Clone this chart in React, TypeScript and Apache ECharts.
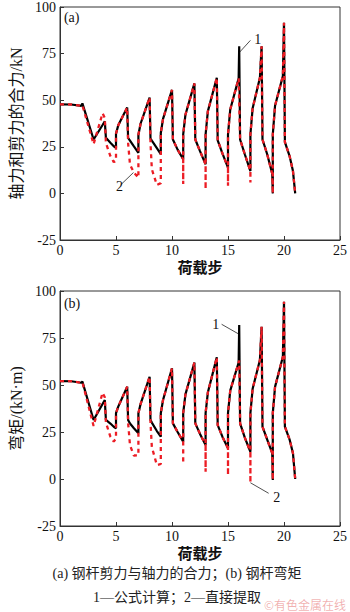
import React, { useEffect, useRef } from "react";
import * as echarts from "echarts";

// ---------- Data (load step, resultant force / bending moment) ----------
// Chart (a): resultant of shear and axial force of the steel bar, kN
const stepsA = [
  0, 1, 1.9, 2, 3, 3.8, 4, 4.1, 4.5, 4.8, 5, 5, 5.2, 6, 6.08, 6.25, 6.6, 7, 7, 7.2,
  8, 8.08, 8.2, 8.65, 9, 9, 9.2, 10, 10.08, 10.5, 11, 11, 11, 11.2, 12, 12.08, 12.5,
  13, 13, 13, 13.2, 14, 14.08, 14.5, 15, 15, 15, 15.2, 15.95, 16, 16.08, 16.5, 17,
  17, 17, 17.2, 17.85, 18, 18.08, 18.5, 18.95, 19, 19, 19.2, 19.9, 20, 20.08, 20.5,
  20.8, 21,
];
const formulaA = [
  47.8, 47.7, 47.0, 48.3, 28.9, 36.7, 38.7, 29.8, 27.2, 25.3, 24.5, 32.0, 36.5, 46.1,
  29.8, 28.3, 25.2, 21.8, 31.5, 37.5, 51.4, 29.4, 28.3, 24.3, 21.0, 32.4, 40.0, 55.5,
  28.9, 23.5, 18.3, 18.3, 31.6, 42.2, 59.0, 28.9, 22.7, 15.6, 15.6, 31.6, 44.0, 62.0,
  28.5, 21.5, 13.8, 13.8, 31.6, 45.0, 61.7, 78.9, 28.9, 21.0, 12.0, 12.0, 31.6, 45.7,
  62.0, 78.9, 28.9, 21.0, 10.5, 0, 31.6, 47.0, 63.0, 91.5, 27.5, 20.0, 12.0, 0,
];
const directA = [
  47.8, 47.7, 47.0, 47.3, 26.4, 43.0, 40.5, 27.0, 20.0, 16.8, 17.4, 32.0, 36.5, 46.1,
  27.0, 15.5, 11.2, 8.5, 31.5, 37.5, 51.4, 27.0, 13.0, 4.5, 5.5, 32.4, 40.0, 55.5,
  28.9, 23.5, 18.3, 5.0, 31.6, 42.2, 59.0, 28.9, 22.7, 15.6, 2.3, 31.6, 44.0, 62.0,
  28.5, 21.5, 13.8, 4.1, 31.6, 45.0, 61.7, 61.9, 28.9, 21.0, 12.0, 5.9, 31.6, 45.7,
  62.0, 78.9, 28.9, 21.0, 10.5, 0, 31.6, 47.0, 63.0, 91.5, 27.5, 20.0, 12.0, 0,
];

// Chart (b): bending moment of the steel bar, kN·m
const stepsB = [
  0, 1, 1.9, 2, 3, 3.8, 4, 4.1, 4.5, 4.8, 5, 5, 5.2, 6, 6.08, 6.25, 6.6, 7, 7, 7.2,
  8, 8.08, 8.2, 8.65, 9, 9, 9.2, 10, 10.08, 10.5, 11, 11, 11, 11.2, 12, 12.08, 12.5,
  13, 13, 13, 13.2, 14, 14.08, 14.5, 15, 15, 15, 15.2, 15.95, 16, 16.08, 16.5, 17,
  17, 17, 17.2, 17.85, 18, 18.08, 18.5, 18.95, 19, 19, 19.2, 19.9, 20, 20.08, 20.5,
  20.8, 21,
];
const formulaB = [
  52.1, 52.0, 51.2, 51.8, 31.4, 39.9, 42.0, 31.4, 29.5, 27.8, 27.0, 35.0, 38.5, 49.1,
  31.4, 29.5, 27.0, 24.3, 35.0, 40.0, 54.4, 31.4, 30.0, 25.5, 22.5, 35.0, 42.0, 58.9,
  29.6, 25.0, 19.9, 19.9, 35.0, 45.0, 61.9, 29.6, 24.0, 18.1, 18.1, 35.0, 46.0, 64.7,
  28.7, 22.5, 16.3, 16.3, 35.0, 47.0, 62.0, 81.9, 29.6, 22.0, 14.5, 14.5, 35.0, 48.0,
  63.3, 81.0, 27.8, 21.0, 13.7, -0.5, 35.0, 49.0, 65.0, 94.3, 27.8, 21.0, 13.7, 0,
];
const directB = [
  52.1, 52.0, 51.2, 51.5, 28.2, 45.9, 43.5, 30.0, 22.5, 19.9, 21.6, 35.0, 38.5, 49.1,
  30.0, 18.0, 12.5, 12.6, 35.0, 40.0, 54.4, 30.0, 17.0, 7.4, 8.0, 35.0, 42.0, 58.9,
  29.6, 25.0, 19.9, 8.3, 35.0, 45.0, 61.9, 29.6, 24.0, 18.1, 3.9, 35.0, 46.0, 64.7,
  28.7, 22.5, 16.3, 2.1, 35.0, 47.0, 62.0, 63.0, 29.6, 22.0, 14.5, -2.0, 35.0, 48.0,
  63.3, 81.0, 27.8, 21.0, 13.7, -0.5, 35.0, 49.0, 65.0, 94.3, 27.8, 21.0, 13.7, 0,
];

const xTicks = [0, 5, 10, 15, 20, 25];
const yTicks = [-25, 0, 25, 50, 75, 100];

const xName = "荷载步";
const yNameA = "轴力和剪力的合力/kN";
const yNameB = "弯矩/(kN·m)";
const caption1 = "(a) 钢杆剪力与轴力的合力；(b) 钢杆弯矩";
const caption2 = "1—公式计算；2—直接提取";
const watermark = "©有色金属在线";

// annotation anchors in data space
const panelLabels: [number, string, number[]][] = [
  [0, "(a)", [0.35, 94.5]],
  [1, "(b)", [0.35, 93.6]],
];
const leaders: [number, string, number[], number[], number[]][] = [
  [0, "1", [17.35, 82.4], [16.06, 75.9], [17.0, 82.1]],
  [0, "2", [5.0, 3.6], [5.42, 4.6], [6.56, 11.2]],
  [1, "1", [13.6, 82.4], [14.43, 82.3], [15.9, 77.3]],
  [1, "2", [19.05, -9.6], [17.0, -2.0], [18.63, -7.6]],
];

const FONT = "'Liberation Serif', 'Noto Sans CJK SC', serif";
const BLACK = "#000000";
const RED = "#ec1c24";

export default function App() {
  const ref = useRef<HTMLDivElement>(null);

  useEffect(() => {
    if (!ref.current) return;
    const chart = echarts.init(ref.current, null, { renderer: "svg", width: 350, height: 612 });

    const grids = [
      { left: 50.7, top: 5, width: 292, height: 235 },
      { left: 50.7, top: 291, width: 292, height: 235 },
    ];

    const xAxisCfg = (gi: number) => ({
      type: "value",
      gridIndex: gi,
      min: xTicks[0],
      max: xTicks[xTicks.length - 1],
      interval: xTicks[1] - xTicks[0],
      name: xName,
      nameLocation: "middle",
      nameGap: 20,
      nameTextStyle: { fontFamily: FONT, fontSize: 15, fontWeight: "bold", color: "#111" },
      axisLine: { onZero: false, lineStyle: { color: "#333", width: 1 } },
      axisTick: { inside: true, length: 4, lineStyle: { color: "#333" } },
      axisLabel: { fontFamily: FONT, fontSize: 14, color: "#111", margin: 3 },
      splitLine: { show: false },
    });

    const yAxisCfg = (gi: number, name: string) => ({
      type: "value",
      gridIndex: gi,
      min: yTicks[0],
      max: yTicks[yTicks.length - 1],
      interval: yTicks[1] - yTicks[0],
      name,
      nameLocation: "middle",
      nameRotate: 90,
      nameGap: 36,
      nameTextStyle: { fontFamily: FONT, fontSize: 16, color: "#111" },
      axisLine: { onZero: false, lineStyle: { color: "#333", width: 1 } },
      axisTick: { inside: true, length: 4, lineStyle: { color: "#333" } },
      axisLabel: { fontFamily: FONT, fontSize: 14, color: "#111", margin: 4 },
      splitLine: { show: false },
    });

    const lineSeries = (gi: number, name: string, xs: number[], ys: number[], dashed: boolean) => ({
      type: "line",
      name,
      xAxisIndex: gi,
      yAxisIndex: gi,
      data: xs.map((x, i) => [x, ys[i]]),
      showSymbol: false,
      symbol: "none",
      z: dashed ? 3 : 2,
      lineStyle: dashed
        ? { color: RED, width: 2.3, type: [4, 4] }
        : { color: BLACK, width: 2.2 },
    });

    chart.setOption({
      animation: false,
      backgroundColor: "#ffffff",
      grid: grids.map((g) => ({ ...g, show: true, borderColor: "#333", borderWidth: 1, backgroundColor: "transparent" })),
      xAxis: [xAxisCfg(0), xAxisCfg(1)],
      yAxis: [yAxisCfg(0, yNameA), yAxisCfg(1, yNameB)],
      series: [
        lineSeries(0, "公式计算", stepsA, formulaA, false),
        lineSeries(0, "直接提取", stepsA, directA, true),
        lineSeries(1, "公式计算", stepsB, formulaB, false),
        lineSeries(1, "直接提取", stepsB, directB, true),
      ],
    });

    const px = (gi: number, p: number[]) => chart.convertToPixel({ gridIndex: gi } as any, p) as number[];
    const graphics: any[] = [];
    panelLabels.forEach(([gi, text, pos]) => {
      const p = px(gi, pos);
      graphics.push({
        type: "text",
        x: p[0],
        y: p[1],
        style: { text, font: `14px ${FONT}`, fill: "#111", textAlign: "left", textVerticalAlign: "middle" },
      });
    });
    leaders.forEach(([gi, text, tpos, from, to]) => {
      const t = px(gi, tpos);
      const a = px(gi, from);
      const b = px(gi, to);
      graphics.push({
        type: "line",
        shape: { x1: a[0], y1: a[1], x2: b[0], y2: b[1] },
        style: { stroke: "#222", lineWidth: 0.8 },
      });
      graphics.push({
        type: "text",
        x: t[0],
        y: t[1],
        style: { text, font: `14px ${FONT}`, fill: "#111", textAlign: "left", textVerticalAlign: "middle" },
      });
    });
    graphics.push({
      type: "text",
      x: 177,
      y: 573,
      style: { text: caption1, font: `14px ${FONT}`, fill: "#222", textAlign: "center", textVerticalAlign: "middle" },
    });
    graphics.push({
      type: "text",
      x: 177,
      y: 597,
      style: { text: caption2, font: `14px ${FONT}`, fill: "#222", textAlign: "center", textVerticalAlign: "middle" },
    });
    graphics.push({
      type: "text",
      x: 346,
      y: 604,
      style: {
        text: watermark,
        font: `12px 'Noto Sans CJK SC', sans-serif`,
        fill: "rgba(225, 80, 80, 0.45)",
        textAlign: "right",
        textVerticalAlign: "middle",
      },
    });
    chart.setOption({ graphic: graphics });

    return () => chart.dispose();
  }, []);

  return <div ref={ref} style={{ position: "absolute", left: 0, top: 0, width: 350, height: 612 }} />;
}
